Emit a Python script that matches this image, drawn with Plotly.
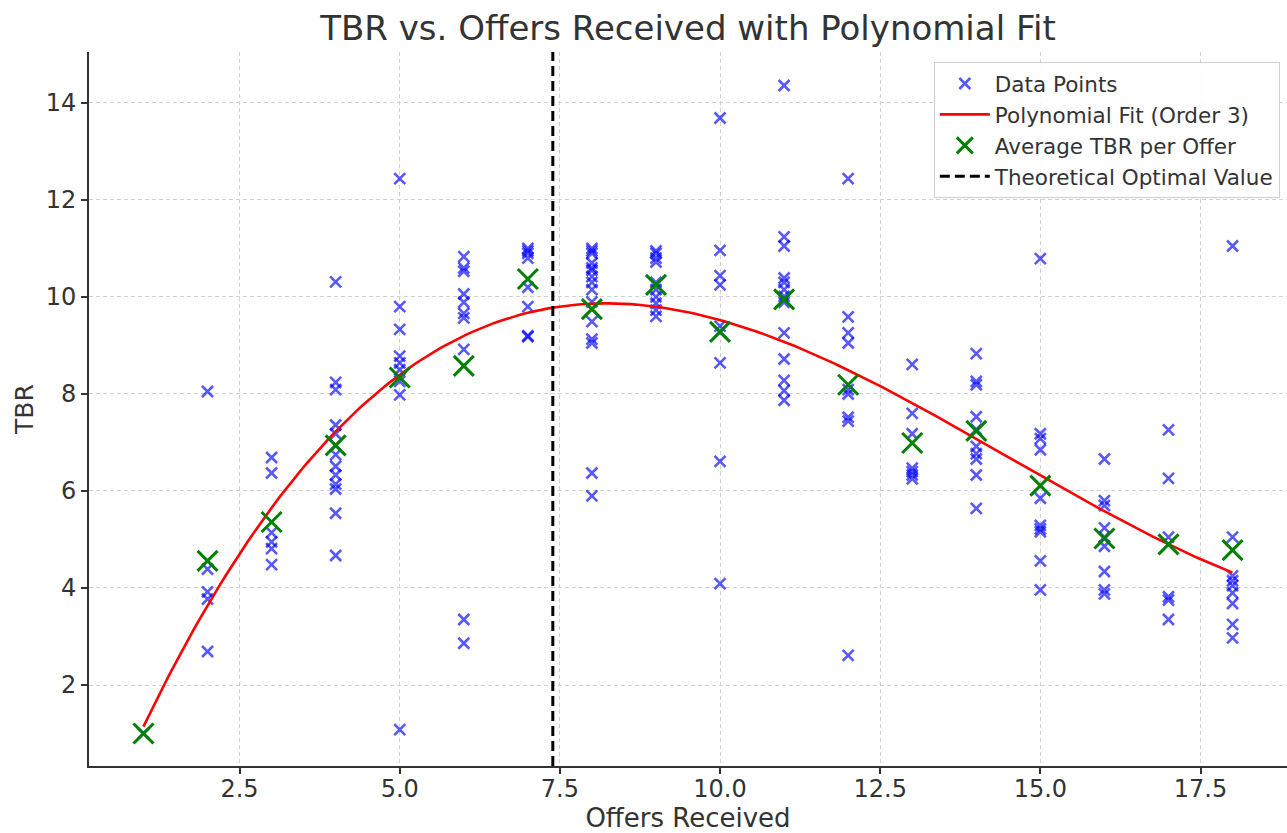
import numpy as np
import plotly.graph_objects as go

# ---- data ----
OFFERS = list(range(1, 19))

TBR_BY_OFFER = [
    [1.00],
    [8.05, 4.39, 3.92, 3.77, 2.69],
    [6.69, 6.37, 5.14, 4.95, 4.81, 4.48],
    [10.31, 8.24, 8.09, 7.36, 7.18, 6.94, 6.75, 6.51, 6.33, 6.14, 6.04, 5.54, 4.67],
    [12.44, 9.80, 9.33, 8.78, 8.64, 8.50, 8.26, 7.98, 1.08],
    [10.83, 10.60, 10.53, 10.06, 9.89, 9.66, 9.57, 8.92, 3.35, 2.86],
    [11.00, 10.95, 10.90, 10.80, 10.20, 9.80, 9.20, 9.18],
    [11.00, 10.95, 10.90, 10.70, 10.60, 10.55, 10.42, 10.30, 10.15, 9.90, 9.49, 9.13, 9.05, 6.37, 5.90],
    [10.95, 10.90, 10.80, 10.72, 10.30, 10.15, 10.00, 9.87, 9.73, 9.60],
    [13.69, 10.96, 10.44, 10.25, 9.40, 9.28, 8.64, 6.61, 4.09],
    [14.36, 11.24, 11.05, 10.39, 10.30, 10.15, 10.01, 9.89, 9.26, 8.72, 8.28, 8.07, 7.87],
    [12.44, 9.59, 9.26, 9.05, 8.09, 8.00, 7.52, 7.44, 2.61],
    [8.61, 7.60, 7.18, 6.47, 6.40, 6.33, 6.25],
    [8.83, 8.26, 8.19, 7.53, 7.27, 6.92, 6.77, 6.66, 6.33, 5.64],
    [10.79, 7.18, 7.08, 6.85, 5.85, 5.29, 5.22, 5.16, 4.56, 3.96],
    [6.66, 5.80, 5.70, 5.24, 5.05, 4.86, 4.34, 3.96, 3.88],
    [7.26, 6.26, 5.05, 3.82, 3.75, 3.35],
    [11.05, 5.05, 4.25, 4.15, 4.05, 3.90, 3.68, 3.25, 2.97],
]

AVG_TBR = [1.00, 4.56, 5.36, 6.94, 8.34, 8.58, 10.37, 9.75, 10.25,
           9.28, 9.95, 8.19, 6.99, 7.24, 6.11, 5.02, 4.90, 4.78]

OPTIMAL_X = 7.39

X_TICKS = [2.5, 5.0, 7.5, 10.0, 12.5, 15.0, 17.5]
Y_TICKS = [2, 4, 6, 8, 10, 12, 14]

# ---- derived ----
pts_x = [o for o, vals in zip(OFFERS, TBR_BY_OFFER) for _ in vals]
pts_y = [v for vals in TBR_BY_OFFER for v in vals]

coef = np.polyfit(pts_x, pts_y, 3)
fit_x = np.linspace(min(OFFERS), max(OFFERS), 200)
fit_y = np.polyval(coef, fit_x)

xr = [0.15, 18.85]
yr = [0.33, 15.05]

FONT = "DejaVu Sans"
TXT = "#333333"

fig = go.Figure()
fig.add_trace(go.Scatter(
    x=pts_x, y=pts_y, mode="markers", name="Data Points",
    marker=dict(symbol="x-thin", size=11, opacity=0.65,
                line=dict(width=2.6, color="rgb(0,0,255)")),
))
fig.add_trace(go.Scatter(
    x=fit_x, y=fit_y, mode="lines", name="Polynomial Fit (Order 3)",
    line=dict(color="red", width=2.6),
))
fig.add_trace(go.Scatter(
    x=OFFERS, y=AVG_TBR, mode="markers", name="Average TBR per Offer",
    marker=dict(symbol="x-thin", size=20,
                line=dict(width=3, color="green")),
))
fig.add_trace(go.Scatter(
    x=[OPTIMAL_X, OPTIMAL_X], y=yr, mode="lines",
    name="Theoretical Optimal Value",
    line=dict(color="black", width=3, dash="10px,5px"),
))

axis_common = dict(
    showline=True, linecolor=TXT, linewidth=1.6,
    ticks="outside", ticklen=6, tickwidth=1.5, tickcolor=TXT,
    showgrid=True, gridcolor="#d0d0d0", gridwidth=1, griddash="4px,3px",
    zeroline=False, mirror=False,
    tickfont=dict(family=FONT, size=24, color=TXT),
)

fig.update_layout(
    width=1287, height=833,
    margin=dict(l=89, r=0, t=52, b=67),
    paper_bgcolor="white", plot_bgcolor="white",
    font=dict(family=FONT, color=TXT),
    title=dict(text="TBR vs. Offers Received with Polynomial Fit",
               x=0.5, xref="paper", xanchor="center",
               y=1 - 28 / 833, yref="container", yanchor="middle",
               font=dict(family=FONT, size=34, color=TXT)),
    xaxis=dict(range=xr, tickvals=X_TICKS, tickformat=".1f",
               ticklabelstandoff=-6,
               title=dict(text="Offers Received", standoff=4,
                          font=dict(family=FONT, size=26, color=TXT)),
               **axis_common),
    yaxis=dict(range=yr, tickvals=Y_TICKS,
               title=dict(text="TBR", standoff=5,
                          font=dict(family=FONT, size=25, color=TXT)),
               **axis_common),
    legend=dict(x=0.994, xanchor="right", y=0.986, yanchor="top",
                bgcolor="rgba(255,255,255,0.9)", bordercolor="#d0d0d0",
                borderwidth=1, font=dict(family=FONT, size=21.5, color=TXT),
                itemwidth=50),
    showlegend=True,
)

fig.write_html("out.html", config={"displayModeBar": False},
               post_script="document.body.style.margin='0';")
